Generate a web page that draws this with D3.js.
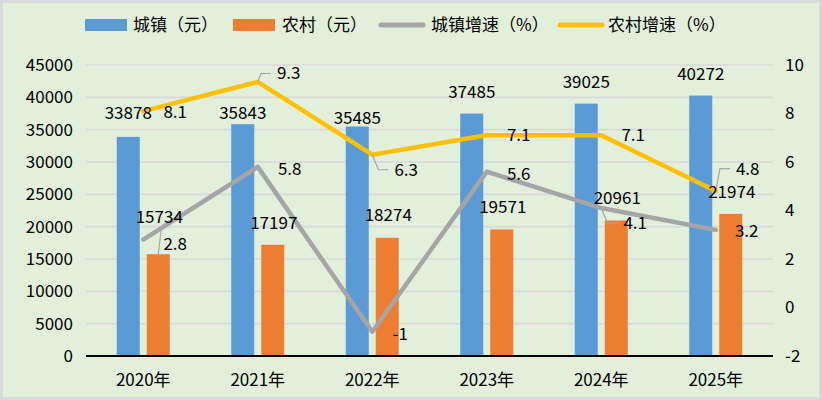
<!DOCTYPE html>
<html><head><meta charset="utf-8">
<script src="https://cdn.jsdelivr.net/npm/d3@7"></script>
<style>
html,body{margin:0;padding:0;background:#fff;}
svg{display:block;font-family:"Noto Sans CJK SC","Noto Sans",sans-serif;}
</style></head><body>
<svg id="c" width="822" height="400"></svg>
<script>
// ---- data ----
const years = ["2020年","2021年","2022年","2023年","2024年","2025年"];
const urbanIncome = [33878, 35843, 35485, 37485, 39025, 40272];
const ruralIncome = [15734, 17197, 18274, 19571, 20961, 21974];
const urbanGrowth = [2.8, 5.8, -1, 5.6, 4.1, 3.2];
const ruralGrowth = [8.1, 9.3, 6.3, 7.1, 7.1, 4.8];
const leftTicks = [0,5000,10000,15000,20000,25000,30000,35000,40000,45000];
const rightTicks = [-2,0,2,4,6,8,10];
const seriesNames = ["城镇（元）","农村（元）","城镇增速（%）","农村增速（%）"];

// ---- layout (label placement tweaks, not data) ----
const urbanLabelRaise = [24, 11, 8.5, 22, 22, 22];
const ruralLabelRaise = [37, 22, 23, 22, 22.5, 22];
const urbanGrowthLabel = [[32,4],[32,2],[28,2],[32,2],[34,15,true],[31,1]];
const ruralGrowthLabel = [[32,1],[31,-8.5,true],[34,15,true],[32,0],[32,0],[32,-22.5,true]];

const colors = {urban:"#5B9BD5", rural:"#ED7D31", ug:"#A5A5A5", rg:"#FFC000"};
const FS = 17;

const svg = d3.select("#c");
svg.append("rect").attr("x",1.5).attr("y",1.5).attr("width",819).attr("height",397)
  .attr("fill","#E2EFDA").attr("stroke","#D9D9D9").attr("stroke-width",3);

const pLeft = 86, pRight = 773, pTop = 65, pBottom = 356;
const x0 = d3.scaleBand().domain(years).range([pLeft,pRight]).paddingInner(0).paddingOuter(0);
const x1 = d3.scaleBand().domain(["urban","rural"]).range([0,x0.bandwidth()]).paddingInner(0.2333).paddingOuter(1.025);
const yL = d3.scaleLinear().domain([0,45000]).range([pBottom,pTop]);
const yR = d3.scaleLinear().domain([-2,10]).range([pBottom,pTop]);

// grid
svg.append("g").selectAll("line").data(leftTicks.filter(d=>d>0)).join("line")
  .attr("x1",pLeft).attr("x2",pRight).attr("y1",d=>yL(d)).attr("y2",d=>yL(d))
  .attr("stroke","#D9D9D9").attr("stroke-width",1.6);

// axes labels
const axL = svg.append("g").attr("transform",`translate(73,0)`)
  .call(d3.axisLeft(yL).tickValues(leftTicks).tickSize(0).tickPadding(0).tickFormat(d=>String(d)));
const axR = svg.append("g").attr("transform",`translate(785,0)`)
  .call(d3.axisRight(yR).tickValues(rightTicks).tickSize(0).tickPadding(0).tickFormat(d=>String(d)));
const axB = svg.append("g").attr("transform",`translate(0,${pBottom})`)
  .call(d3.axisBottom(x0).tickSize(0).tickPadding(18));
[axL,axR,axB].forEach(g=>{
  g.select(".domain").remove();
  g.selectAll("text").attr("font-size",FS).attr("fill","#000")
   .attr("font-family",'"Noto Sans CJK SC","Noto Sans",sans-serif');
});

// bars
const rows = years.map((y,i)=>({year:y,i,urban:urbanIncome[i],rural:ruralIncome[i]}));
const gBars = svg.append("g");
["urban","rural"].forEach(k=>{
  gBars.selectAll("rect."+k).data(rows).join("rect").attr("class",k)
    .attr("x",d=>x0(d.year)+x1(k)).attr("width",x1.bandwidth())
    .attr("y",d=>yL(d[k])).attr("height",d=>pBottom-yL(d[k]))
    .attr("fill",colors[k]);
});

// axis line
svg.append("line").attr("x1",pLeft).attr("x2",pRight).attr("y1",pBottom).attr("y2",pBottom)
  .attr("stroke","#000").attr("stroke-width",2);

// lines
const cx = y => x0(y)+x0.bandwidth()/2;
const lineGen = d3.line().x(d=>cx(d.year)).y(d=>yR(d.v));
const ugPts = years.map((y,i)=>({year:y,v:urbanGrowth[i]}));
const rgPts = years.map((y,i)=>({year:y,v:ruralGrowth[i]}));
svg.append("path").datum(ugPts).attr("d",lineGen).attr("fill","none")
  .attr("stroke",colors.ug).attr("stroke-width",4.5).attr("stroke-linejoin","round").attr("stroke-linecap","round");
svg.append("path").datum(rgPts).attr("d",lineGen).attr("fill","none")
  .attr("stroke",colors.rg).attr("stroke-width",4.5).attr("stroke-linejoin","round").attr("stroke-linecap","round");

// labels
const gL = svg.append("g").attr("font-size",FS).attr("fill","#000");
rows.forEach(d=>{
  const bx = x0(d.year)+x1("urban")+x1.bandwidth()/2;
  gL.append("text").attr("x",bx).attr("y",yL(d.urban)-urbanLabelRaise[d.i]).attr("dy","0.35em")
    .attr("text-anchor","middle").text(d.urban);
  const rx = x0(d.year)+x1("rural")+x1.bandwidth()/2;
  const ly = yL(d.rural)-ruralLabelRaise[d.i];
  gL.append("text").attr("x",rx+1).attr("y",ly).attr("dy","0.35em")
    .attr("text-anchor","middle").text(d.rural);
  if (ruralLabelRaise[d.i] > 30) {
    svg.append("line").attr("x1",rx+3).attr("y1",ly+12).attr("x2",rx).attr("y2",yL(d.rural))
      .attr("stroke","#A6A6A6").attr("stroke-width",1.2);
  }
});
function lineLabels(pts, cfg){
  pts.forEach((d,i)=>{
    const px = cx(d.year), py = yR(d.v);
    const [dx,dy,leader] = cfg[i];
    const lx = px+dx, ly = py+dy;
    const t = gL.append("text").attr("x",lx).attr("y",ly).attr("dy","0.35em")
      .attr("text-anchor","middle").text(d.v);
    if (leader) {
      const w = t.node().getComputedTextLength();
      const l = lx - w/2;
      svg.append("polyline")
        .attr("points",`${px},${py} ${l-16},${ly} ${l-6},${ly}`)
        .attr("fill","none").attr("stroke","#A6A6A6").attr("stroke-width",1.2);
    }
  });
}
lineLabels(ugPts, urbanGrowthLabel);
lineLabels(rgPts, ruralGrowthLabel);
gL.raise();

// legend
const lg = svg.append("g").attr("font-size",FS).attr("fill","#000");
const legendItems = [
  {name:seriesNames[0], type:"rect", color:colors.urban, x:85, tx:133},
  {name:seriesNames[1], type:"rect", color:colors.rural, x:233, tx:282},
  {name:seriesNames[2], type:"line", color:colors.ug, x:379, tx:431},
  {name:seriesNames[3], type:"line", color:colors.rg, x:558, tx:608}
];
legendItems.forEach(it=>{
  if (it.type==="rect") lg.append("rect").attr("x",it.x).attr("y",19).attr("width",42).attr("height",12).attr("fill",it.color);
  else lg.append("line").attr("x1",it.x+2).attr("x2",it.x+44).attr("y1",25).attr("y2",25)
    .attr("stroke",it.color).attr("stroke-width",5).attr("stroke-linecap","round");
  lg.append("text").attr("x",it.tx).attr("y",25).attr("dy","0.35em").text(it.name);
});
</script>
</body></html>
